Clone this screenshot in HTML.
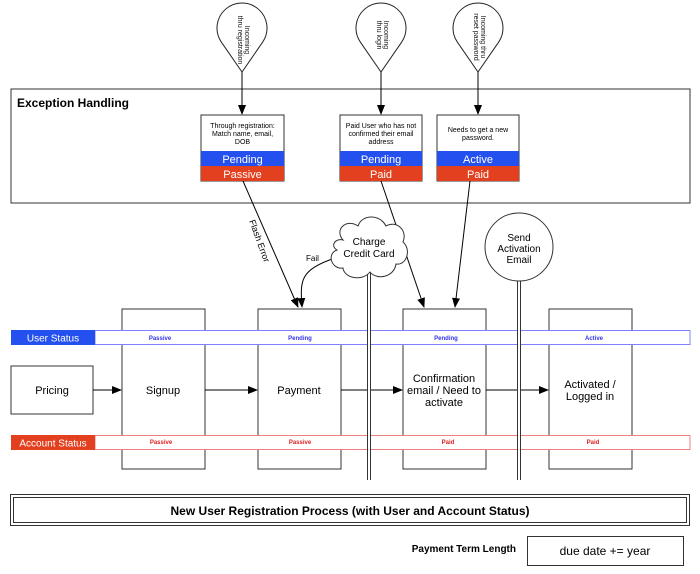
<!DOCTYPE html>
<html><head><meta charset="utf-8"><style>
html,body{margin:0;padding:0;background:#fff;}
svg{display:block;font-family:"Liberation Sans",Arial,sans-serif;}
</style></head><body>
<svg width="700" height="574" viewBox="0 0 700 574" xmlns="http://www.w3.org/2000/svg">
<defs>
<marker id="ah" markerWidth="10" markerHeight="10" refX="9" refY="5" orient="auto" markerUnits="userSpaceOnUse">
<path d="M0,1 L10,5 L0,9 Z" fill="#000"/></marker>
<g id="bal"><path d="M0,72 L-20.6,42.2 A25,25 0 1 1 20.6,42.2 Z" fill="#fff" stroke="#222" stroke-width="1"/></g>
</defs>

<use href="#bal" x="242" y="0"/>
<use href="#bal" x="381" y="0"/>
<use href="#bal" x="478" y="0"/>
<g font-size="7" fill="#111" text-anchor="middle">
<text transform="translate(245,40) rotate(90)"><tspan x="0" y="0">Incoming</tspan><tspan x="0" y="7">thru registration</tspan></text>
<text transform="translate(384,35) rotate(90)"><tspan x="0" y="0">Incoming</tspan><tspan x="0" y="7">thru login</tspan></text>
<text transform="translate(481,37) rotate(90)"><tspan x="0" y="0">Incoming thru</tspan><tspan x="0" y="7">reset password</tspan></text>
</g>

<rect x="11" y="89" width="679" height="114" fill="none" stroke="#333" stroke-width="1"/>
<text x="17" y="107" font-size="12" font-weight="bold">Exception Handling</text>

<line x1="242" y1="72" x2="242" y2="114" stroke="#000" marker-end="url(#ah)"/>
<line x1="381" y1="72" x2="381" y2="114" stroke="#000" marker-end="url(#ah)"/>
<line x1="478" y1="72" x2="478" y2="114" stroke="#000" marker-end="url(#ah)"/>

<g font-size="7" text-anchor="middle">
<rect x="201" y="115" width="83" height="66" fill="#fff" stroke="#333"/>
<rect x="201" y="151" width="83" height="15" fill="#2450f0"/>
<rect x="201" y="166" width="83" height="15" fill="#e2401f"/>
<text x="242.5" y="128">Through registration:</text><text x="242.5" y="136">Match name, email,</text><text x="242.5" y="144">DOB</text>
<rect x="340" y="115" width="82" height="66" fill="#fff" stroke="#333"/>
<rect x="340" y="151" width="82" height="15" fill="#2450f0"/>
<rect x="340" y="166" width="82" height="15" fill="#e2401f"/>
<text x="381" y="128">Paid User who has not</text><text x="381" y="136">confirmed their email</text><text x="381" y="144">address</text>
<rect x="437" y="115" width="82" height="66" fill="#fff" stroke="#333"/>
<rect x="437" y="151" width="82" height="15" fill="#2450f0"/>
<rect x="437" y="166" width="82" height="15" fill="#e2401f"/>
<text x="478" y="132">Needs to get a new</text><text x="478" y="140">password.</text>
</g>
<g font-size="11" fill="#fff" text-anchor="middle">
<text x="242.5" y="163">Pending</text><text x="242.5" y="178">Passive</text>
<text x="381" y="163">Pending</text><text x="381" y="178">Paid</text>
<text x="478" y="163">Active</text><text x="478" y="178">Paid</text>
</g>

<line x1="243" y1="181" x2="298" y2="307" stroke="#000" marker-end="url(#ah)"/>
<line x1="381" y1="181" x2="424" y2="307" stroke="#000" marker-end="url(#ah)"/>
<line x1="470" y1="181" x2="455" y2="307" stroke="#000" marker-end="url(#ah)"/>
<text transform="translate(249,221) rotate(70)" font-size="9">Flash Error</text>
<path d="M335,258 C300,270 300,280 302,307" fill="none" stroke="#000" marker-end="url(#ah)"/>
<text x="306" y="261" font-size="8">Fail</text>

<g fill="#fff" stroke="#333">
<rect x="122" y="309" width="83" height="160"/>
<rect x="258" y="309" width="83" height="160"/>
<rect x="403" y="309" width="83" height="160"/>
<rect x="549" y="309" width="83" height="160"/>
<rect x="11" y="366" width="82" height="48"/>
</g>

<rect x="95" y="330.5" width="595" height="14" fill="#fff" stroke="#8080ff"/>
<rect x="11" y="330" width="84" height="15" fill="#2450f0"/>
<text x="53" y="341.5" font-size="10" fill="#fff" text-anchor="middle">User Status</text>
<rect x="95" y="435.5" width="595" height="14" fill="#fff" stroke="#f08080"/>
<rect x="11" y="435" width="84" height="15" fill="#e2401f"/>
<text x="53" y="446.5" font-size="10" fill="#fff" text-anchor="middle">Account Status</text>
<g font-size="6" font-weight="bold" text-anchor="middle" fill="#3333ee">
<text x="160" y="340">Passive</text><text x="300" y="340">Pending</text><text x="446" y="340">Pending</text><text x="594" y="340">Active</text>
</g>
<g font-size="6" font-weight="bold" text-anchor="middle" fill="#e02020">
<text x="161" y="444">Passive</text><text x="300" y="444">Passive</text><text x="448" y="444">Paid</text><text x="593" y="444">Paid</text>
</g>

<g stroke="#000" marker-end="url(#ah)">
<line x1="93" y1="390" x2="121" y2="390"/>
<line x1="205" y1="390" x2="257" y2="390"/>
<line x1="341" y1="390" x2="402" y2="390"/>
<line x1="486" y1="390" x2="548" y2="390"/>
</g>

<g font-size="11" text-anchor="middle">
<text x="52" y="394">Pricing</text>
<text x="163" y="394">Signup</text>
<text x="299" y="394">Payment</text>
<text x="444" y="382">Confirmation</text><text x="444" y="394">email / Need to</text><text x="444" y="406">activate</text>
<text x="590" y="388">Activated /</text><text x="590" y="400">Logged in</text>
</g>

<g stroke="#333" stroke-width="1">
<line x1="367.5" y1="270" x2="367.5" y2="480"/><line x1="370.5" y1="270" x2="370.5" y2="480"/>
<line x1="517.5" y1="280" x2="517.5" y2="480"/><line x1="520.5" y1="280" x2="520.5" y2="480"/>
</g>
<rect x="368" y="270" width="2" height="210" fill="#fff"/>
<rect x="518" y="280" width="2" height="200" fill="#fff"/>

<path d="M343,240 C334,230 346,218 358,226 C362,214 380,214 386,226 C396,220 408,230 403,242 C412,250 406,266 396,264 C394,278 376,280 370,272 C362,282 344,278 343,268 C332,270 326,254 337,250 C330,246 335,238 343,240 Z" fill="#fff" stroke="#333"/>
<text x="369" y="245" font-size="10" text-anchor="middle">Charge</text>
<text x="369" y="257" font-size="10" text-anchor="middle">Credit Card</text>

<circle cx="519" cy="247" r="34" fill="#fff" stroke="#333"/>
<g font-size="10" text-anchor="middle"><text x="519" y="241">Send</text><text x="519" y="252">Activation</text><text x="519" y="263">Email</text></g>

<rect x="10.5" y="494.5" width="679" height="31" fill="#fff" stroke="#333"/>
<rect x="13.5" y="497.5" width="673" height="25" fill="none" stroke="#333"/>
<text x="350" y="515" font-size="12" font-weight="bold" text-anchor="middle">New User Registration Process (with User and Account Status)</text>

<text x="516" y="552" font-size="10" font-weight="bold" text-anchor="end">Payment Term Length</text>
<rect x="527.5" y="536.5" width="156" height="29" fill="#fff" stroke="#333"/>
<text x="605" y="555" font-size="12" text-anchor="middle">due date += year</text>
</svg>
</body></html>
